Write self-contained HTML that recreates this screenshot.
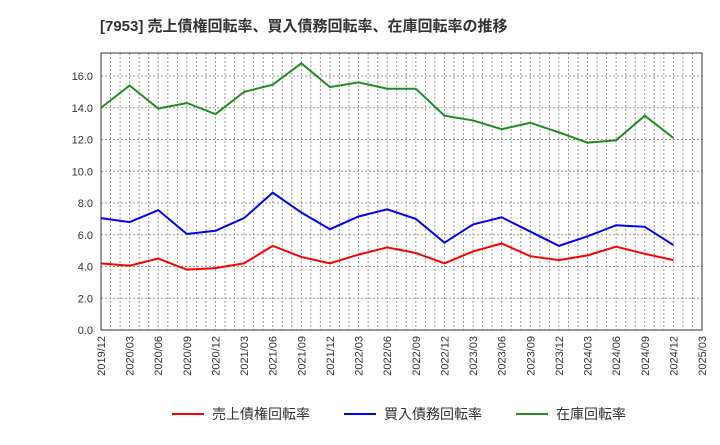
<!DOCTYPE html>
<html><head><meta charset="utf-8"><style>
body{margin:0;background:#fff;font-family:"Liberation Sans","Noto Sans CJK JP",sans-serif}
</style></head><body>
<svg width="720" height="440" xmlns="http://www.w3.org/2000/svg" id="chart">
<text x="100" y="31" font-size="15" font-weight="bold" fill="#333" font-family="Liberation Sans, Noto Sans CJK JP, sans-serif">[7953]  売上債権回転率、買入債務回転率、在庫回転率の推移</text>
<g id="grid"></g><g id="axes"></g><g id="series"></g>
<g font-size="14" fill="#333" font-family="Liberation Sans, Noto Sans CJK JP, sans-serif">
<line x1="172" y1="414" x2="204" y2="414" stroke="#ff0000" stroke-width="2"/><text x="212" y="419">売上債権回転率</text>
<line x1="344" y1="414" x2="376" y2="414" stroke="#0000ff" stroke-width="2"/><text x="384" y="419">買入債務回転率</text>
<line x1="516" y1="414" x2="548" y2="414" stroke="#228b22" stroke-width="2"/><text x="556" y="419">在庫回転率</text>
</g>
</svg>
<script>
const categories=["2019/12","2020/03","2020/06","2020/09","2020/12","2021/03","2021/06","2021/09","2021/12","2022/03","2022/06","2022/09","2022/12","2023/03","2023/06","2023/09","2023/12","2024/03","2024/06","2024/09","2024/12"];
const xTickLabels=["2019/12","2020/03","2020/06","2020/09","2020/12","2021/03","2021/06","2021/09","2021/12","2022/03","2022/06","2022/09","2022/12","2023/03","2023/06","2023/09","2023/12","2024/03","2024/06","2024/09","2024/12","2025/03"];
const yTicks=[0,2,4,6,8,10,12,14,16];
const receivables=[4.2,4.05,4.5,3.8,3.9,4.2,5.3,4.6,4.2,4.75,5.2,4.85,4.2,4.95,5.45,4.65,4.4,4.7,5.25,4.8,4.4];
const payables=[7.05,6.8,7.55,6.05,6.25,7.05,8.65,7.4,6.35,7.15,7.6,7.0,5.5,6.65,7.1,6.2,5.3,5.9,6.6,6.5,5.35];
const inventory=[14.0,15.4,13.95,14.3,13.6,15.0,15.45,16.8,15.3,15.6,15.2,15.2,13.5,13.2,12.65,13.05,12.45,11.8,11.95,13.5,12.1];
const L=101,R=702,T=53,B=330;
const step=(R-L)/(xTickLabels.length-1);
const x=i=>L+i*step;
const y=v=>B-v*(B-76)/16;
const NS="http://www.w3.org/2000/svg";
function mk(tag,attrs,parent){const e=document.createElementNS(NS,tag);for(const k in attrs)e.setAttribute(k,attrs[k]);parent.appendChild(e);return e;}
const grid=document.getElementById('grid'),axes=document.getElementById('axes'),ser=document.getElementById('series');
for(let m=1;m<(xTickLabels.length-1)*3;m++){const xx=L+m*step/3;
const g=mk('line',{x1:xx,x2:xx,y1:T,y2:B,stroke:'#999','stroke-dasharray':'2,2','stroke-width':1},grid);

}
yTicks.forEach(v=>{if(v>0){const g=mk('line',{x1:L,x2:R,y1:y(v),y2:y(v),stroke:'#999','stroke-dasharray':'2,2','stroke-width':1},grid);

}
const t=mk('text',{x:L-8,y:y(v)+4,'text-anchor':'end','font-size':11,fill:'#333'},axes);t.textContent=v.toFixed(1);

});
xTickLabels.forEach((s,i)=>{const t=mk('text',{transform:`translate(${x(i)+4},${B+6}) rotate(-90)`,'text-anchor':'end','font-size':11,fill:'#333'},axes);t.textContent=s;

});
const frame=mk('rect',{x:L,y:T,width:R-L,height:B-T,fill:'none',stroke:'#333','stroke-width':1},axes);


[[inventory,'#228b22','inventory-line'],[payables,'#0000ff','payables-line'],[receivables,'#ff0000','receivables-line']].forEach(([d,c,n])=>{
const p=mk('polyline',{points:d.map((v,i)=>x(i)+','+y(v)).join(' '),fill:'none',stroke:c,'stroke-width':2},ser);

});
</script>
</body></html>
